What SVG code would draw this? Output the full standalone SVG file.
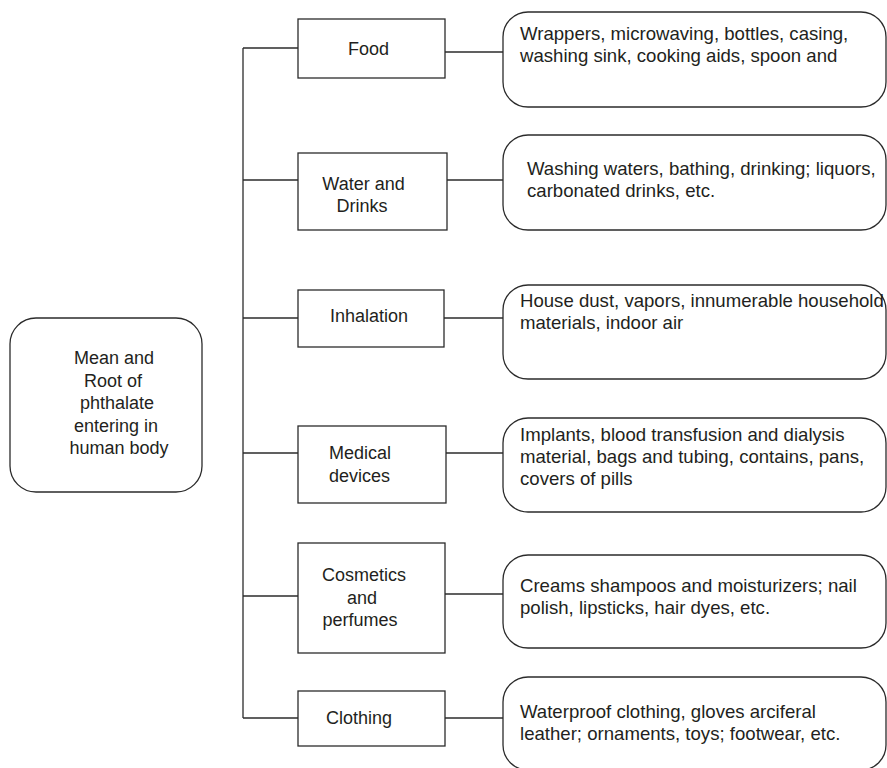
<svg xmlns="http://www.w3.org/2000/svg" width="887" height="768" viewBox="0 0 887 768">
  <style>
    .box { fill: #ffffff; stroke: #2b2b2b; stroke-width: 1.3; }
    .link { fill: none; stroke: #2b2b2b; stroke-width: 1.3; }
    text { font-family: "Liberation Sans", Arial, Helvetica, sans-serif; font-size: 18px; fill: #231f20; }
    .c { text-anchor: middle; }
    .item { font-size: 18.6px; }
  </style>
  <rect width="887" height="768" fill="#ffffff"/>

  <!-- connectors: trunk line and branches -->
  <g id="connectors">
    <path class="link" d="M243 48 V718"/>
    <path class="link" d="M243 48 H298"/>
    <path class="link" d="M243 180 H298"/>
    <path class="link" d="M243 318 H298"/>
    <path class="link" d="M243 453 H298"/>
    <path class="link" d="M243 596 H298"/>
    <path class="link" d="M243 718 H298"/>
    <path class="link" d="M445 52 H503"/>
    <path class="link" d="M447 180 H503"/>
    <path class="link" d="M444 318 H503"/>
    <path class="link" d="M446 453 H503"/>
    <path class="link" d="M445 594 H503"/>
    <path class="link" d="M445 718 H503"/>
  </g>

  <!-- root node -->
  <g id="root">
    <rect class="box" x="10" y="318" width="192" height="174" rx="26"/>
    <text x="114" y="364" class="c">Mean and</text>
    <text x="113" y="387" class="c">Root of</text>
    <text x="117" y="409" class="c">phthalate</text>
    <text x="116" y="432" class="c">entering in</text>
    <text x="119" y="454" class="c">human body</text>
  </g>

  <!-- source categories -->
  <g id="food">
    <rect class="box" x="298" y="19" width="147" height="59"/>
    <text x="368.5" y="55" class="c">Food</text>
  </g>
  <g id="water">
    <rect class="box" x="298" y="153" width="149" height="77"/>
    <text x="363.5" y="190" class="c">Water and</text>
    <text x="362" y="212" class="c">Drinks</text>
  </g>
  <g id="inhalation">
    <rect class="box" x="298" y="290" width="146" height="57"/>
    <text x="369" y="322" class="c">Inhalation</text>
  </g>
  <g id="medical">
    <rect class="box" x="298" y="426" width="148" height="77"/>
    <text x="329" y="459">Medical</text>
    <text x="329" y="482">devices</text>
  </g>
  <g id="cosmetics">
    <rect class="box" x="298" y="543" width="147" height="110"/>
    <text x="364" y="581" class="c">Cosmetics</text>
    <text x="362" y="604" class="c">and</text>
    <text x="360" y="626" class="c">perfumes</text>
  </g>
  <g id="clothing">
    <rect class="box" x="298" y="691" width="147" height="55"/>
    <text x="359" y="724" class="c">Clothing</text>
  </g>

  <!-- example items -->
  <g id="food-items">
    <rect class="box" x="503" y="12" width="383" height="95" rx="25"/>
    <text class="item" x="520" y="40">Wrappers, microwaving, bottles, casing,</text>
    <text class="item" x="520" y="62">washing sink, cooking aids, spoon and</text>
  </g>
  <g id="water-items">
    <rect class="box" x="503" y="135" width="383" height="95" rx="25"/>
    <text class="item" x="527" y="175">Washing waters, bathing, drinking; liquors,</text>
    <text class="item" x="527" y="197">carbonated drinks, etc.</text>
  </g>
  <g id="inhalation-items">
    <rect class="box" x="503" y="285" width="383" height="94" rx="25"/>
    <text class="item" x="520" y="307">House dust, vapors, innumerable household</text>
    <text class="item" x="520" y="329">materials, indoor air</text>
  </g>
  <g id="medical-items">
    <rect class="box" x="503" y="418" width="383" height="94" rx="25"/>
    <text class="item" x="520" y="441">Implants, blood transfusion and dialysis</text>
    <text class="item" x="520" y="463">material, bags and tubing, contains, pans,</text>
    <text class="item" x="520" y="485">covers of pills</text>
  </g>
  <g id="cosmetics-items">
    <rect class="box" x="503" y="555" width="383" height="93" rx="25"/>
    <text class="item" x="520" y="592">Creams shampoos and moisturizers; nail</text>
    <text class="item" x="520" y="614">polish, lipsticks, hair dyes, etc.</text>
  </g>
  <g id="clothing-items">
    <rect class="box" x="503" y="677" width="383" height="93" rx="25"/>
    <text class="item" x="520" y="718">Waterproof clothing, gloves arciferal</text>
    <text class="item" x="520" y="740">leather; ornaments, toys; footwear, etc.</text>
  </g>
</svg>
